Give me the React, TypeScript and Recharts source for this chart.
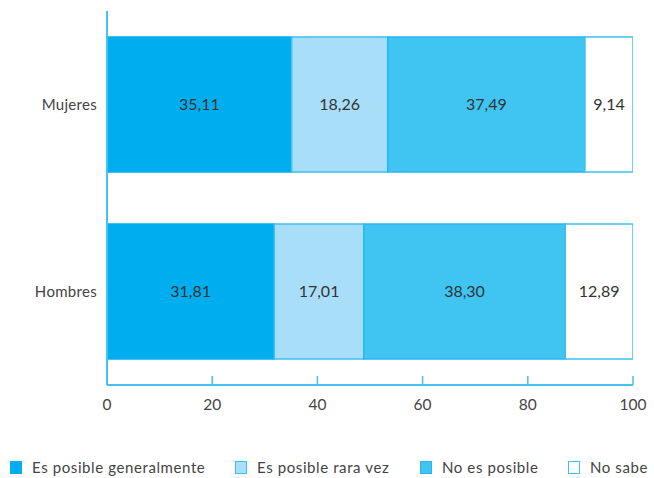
import React from 'react';
import { BarChart, Bar, XAxis, YAxis, LabelList } from 'recharts';

const categories = ['Mujeres', 'Hombres'];
const posibleGeneralmente = [35.11, 31.81];
const posibleRaraVez = [18.26, 17.01];
const noEsPosible = [37.49, 38.30];
const noSabe = [9.14, 12.89];
const xTicks = [0, 20, 40, 60, 80, 100];

const seriesNames = ['Es posible generalmente', 'Es posible rara vez', 'No es posible', 'No sabe'];
const seriesKeys = ['a', 'b', 'c', 'd'];
const fills = ['#00AEEF', '#A9DEF9', '#40C5F3', '#FFFFFF'];
const strokes = ['#00AEEF', '#3DC1F0', '#29B6EE', '#3DC1F0'];

const data = categories.map((name, i) => ({
  name,
  a: posibleGeneralmente[i],
  b: posibleRaraVez[i],
  c: noEsPosible[i],
  d: noSabe[i],
}));

const fmt = (v: any) => Number(v).toFixed(2).replace('.', ',');
const FONT = 'Lato, "DejaVu Sans", sans-serif';
const AXIS = '#45C2F0';

const legendPositions = [10, 235, 420, 568];

export default function App() {
  return (
    <div style={{ position: 'absolute', left: 0, top: 0, width: 654, height: 478, background: '#fff' }}>
      <BarChart
        width={654}
        height={478}
        data={data}
        layout="vertical"
        margin={{ top: 11, right: 21, left: 0, bottom: 63 }}
        style={{ fontFamily: FONT }}
      >
        <XAxis
          type="number"
          domain={[0, 100]}
          ticks={xTicks}
          height={30}
          axisLine={{ stroke: AXIS, strokeWidth: 2 }}
          tickLine={{ stroke: AXIS, strokeWidth: 1.5 }}
          tickSize={-9}
          tickMargin={23}
          tick={{ fill: '#444', fontSize: 15.5 }}
          allowDataOverflow
        />
        <YAxis
          type="category"
          dataKey="name"
          width={107}
          axisLine={{ stroke: AXIS, strokeWidth: 2 }}
          tickLine={false}
          tickMargin={4}
          tick={{ fill: '#444', fontSize: 15, letterSpacing: 0.3 }}
        />
        {seriesKeys.map((k, i) => (
          <Bar
            key={k}
            dataKey={k}
            stackId="s"
            name={seriesNames[i]}
            fill={fills[i]}
            stroke={strokes[i]}
            strokeWidth={1.5}
            barSize={135}
            isAnimationActive={false}
          >
            <LabelList
              dataKey={k}
              position="center"
              formatter={fmt}
              style={{ fill: '#333', fontSize: 16, fontFamily: FONT }}
            />
          </Bar>
        ))}
      </BarChart>
      <div style={{ position: 'absolute', left: 0, top: 458, width: 654, height: 20, fontFamily: FONT }}>
        {seriesNames.map((n, i) => (
          <div
            key={n}
            style={{
              position: 'absolute',
              left: legendPositions[i],
              top: 0,
              display: 'flex',
              alignItems: 'center',
              fontSize: 15,
              letterSpacing: 0.6,
              color: '#444',
              whiteSpace: 'nowrap',
              lineHeight: '18px',
            }}
          >
            <span
              style={{
                display: 'inline-block',
                width: 12,
                height: 13,
                boxSizing: 'border-box',
                background: fills[i],
                border: `1.5px solid ${strokes[i]}`,
                marginRight: 10,
              }}
            />
            {n}
          </div>
        ))}
      </div>
    </div>
  );
}
